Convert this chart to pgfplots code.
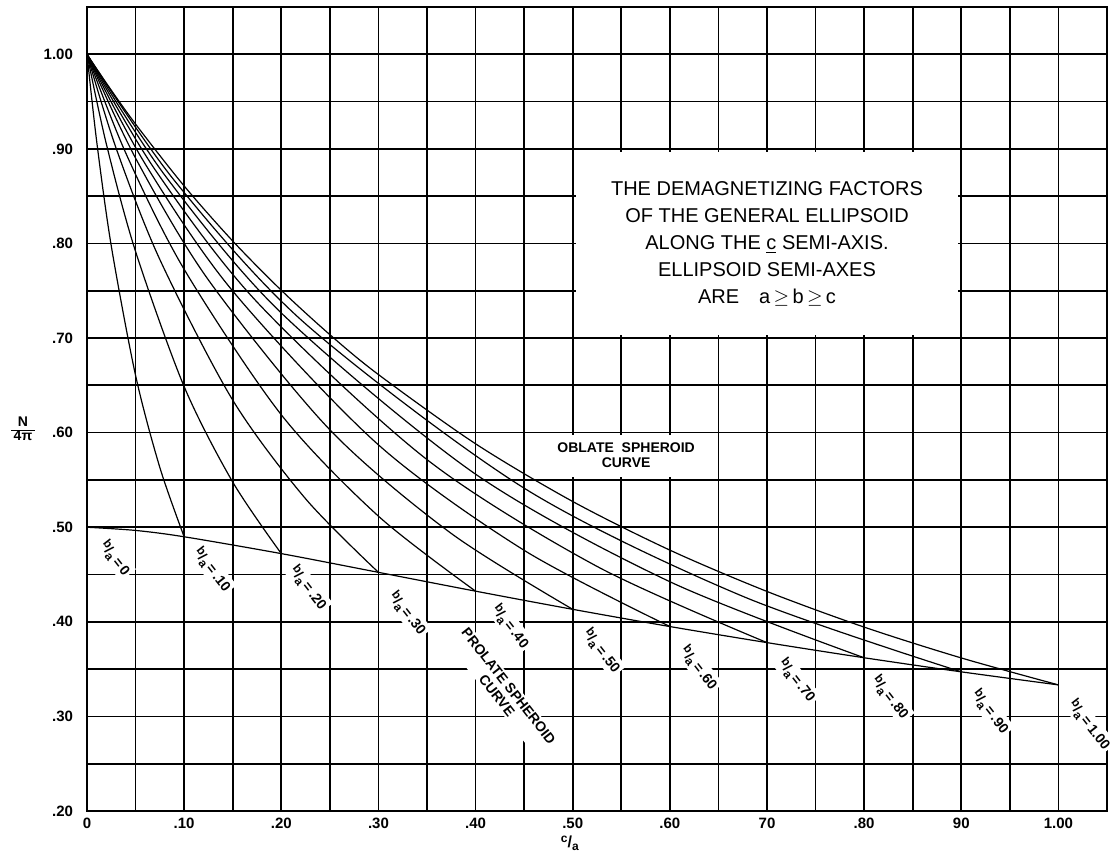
\documentclass[border=0pt]{standalone}
\usepackage{fontspec}
\setmainfont{Liberation Sans}
\usepackage{pgfplots}
\pgfplotsset{compat=1.18}

% small skewed fraction b/a used in the curve labels
\newcommand{\sfr}[2]{\raisebox{0.5ex}{\fontsize{6}{6}\selectfont #1}/\raisebox{-0.4ex}{\fontsize{6}{6}\selectfont #2}}
\newcommand{\ba}[1]{\sfr{b}{a}\,=\,#1}

\pgfplotsset{
  curve/.style={black, line width=0.6pt, smooth, mark=none},
}
\tikzset{
  lbl/.style={rotate=-52, font=\fontsize{7}{7.5}\selectfont\bfseries, fill=white, inner sep=1pt, align=center},
}

\begin{document}
\begin{tikzpicture}
\path[use as bounding box] (-43.5pt,-21.5pt) rectangle (511.5pt,405.5pt);
\begin{axis}[
  scale only axis, width=510pt, height=402pt,
  xmin=0, xmax=1.05, ymin=0.2, ymax=1.05,
  xtick={0,0.1,0.2,0.3,0.4,0.5,0.6,0.7,0.8,0.9,1.0},
  xticklabels={0,.10,.20,.30,.40,.50,.60,70,.80,90,1.00},
  ytick={0.2,0.3,0.4,0.5,0.6,0.7,0.8,0.9,1.0},
  yticklabels={.20,.30,.40,.50,.60,.70,.80,.90,1.00},
  minor tick num=1,
  grid=both,
  major grid style={black, line width=0.85pt},
  minor grid style={black, line width=0.85pt},
  major tick length=0pt, minor tick length=0pt,
  axis line style={black, line width=1pt},
  tick label style={font=\fontsize{7.5}{8}\selectfont\bfseries},
  yticklabel style={xshift=-3.5pt},
  clip=false,
]
% white panels over the grid
\fill[white] (axis cs:0.503,0.703) rectangle (axis cs:0.897,0.897);
\fill[white] (axis cs:0.452,0.553) rectangle (axis cs:0.648,0.597);

\node[align=center, font=\fontsize{10}{13.5}\selectfont] at (axis cs:0.70,0.80)
  {THE DEMAGNETIZING FACTORS\\OF THE GENERAL ELLIPSOID\\ALONG THE \underline{c} SEMI-AXIS.\\ELLIPSOID SEMI-AXES\\ARE\quad a$\,\geq\,$b$\,\geq\,$c};
\node[align=center, font=\fontsize{7}{7.5}\selectfont\bfseries] at (axis cs:0.555,0.576)
  {OBLATE\ \ SPHEROID\\CURVE};

% curve labels
\node[lbl] at (axis cs:0.029,0.467) {\ba{0}};
\node[lbl] at (axis cs:0.129,0.455) {\ba{.10}};
\node[lbl] at (axis cs:0.228,0.436) {\ba{.20}};
\node[lbl] at (axis cs:0.330,0.409) {\ba{.30}};
\node[lbl] at (axis cs:0.436,0.395) {\ba{.40}};
\node[lbl] at (axis cs:0.428,0.327) {PROLATE SPHEROID\\CURVE};
\node[lbl] at (axis cs:0.530,0.369) {\ba{.50}};
\node[lbl] at (axis cs:0.630,0.351) {\ba{.60}};
\node[lbl] at (axis cs:0.731,0.338) {\ba{.70}};
\node[lbl] at (axis cs:0.827,0.320) {\ba{.80}};
\node[lbl] at (axis cs:0.930,0.305) {\ba{.90}};
\node[lbl] at (axis cs:1.032,0.291) {\ba{1.00}};

% prolate spheroid curve (b = c)
\addplot[curve] coordinates {(0,0.5000) (0.05,0.4966) (0.1,0.4899) (0.2,0.4721) (0.3,0.4523) (0.4,0.4324) (0.5,0.4132) (0.6,0.3950) (0.7,0.3780) (0.8,0.3620) (0.9,0.3471) (1.0,0.3333)};
% oblate spheroid curve (b/a = 1.00)
\addplot[curve] coordinates {(0,1) (0.02,0.9694) (0.05,0.9262) (0.1,0.8608) (0.15,0.8026) (0.2,0.7505) (0.25,0.7036) (0.3,0.6614) (0.4,0.5882) (0.5,0.5272) (0.6,0.4758) (0.7,0.4321) (0.8,0.3944) (0.9,0.3618) (1.0,0.3333)};
% b/a = .90 ... .10
\addplot[curve] coordinates {(0,1) (0.09,0.8665) (0.225,0.7150) (0.45,0.5413) (0.675,0.4270) (0.9,0.3471)};
\addplot[curve] coordinates {(0,1) (0.08,0.8723) (0.2,0.7265) (0.4,0.5561) (0.6,0.4424) (0.8,0.3620)};
\addplot[curve] coordinates {(0,1) (0.07,0.8781) (0.175,0.7381) (0.35,0.5715) (0.525,0.4586) (0.7,0.3780)};
\addplot[curve] coordinates {(0,1) (0.06,0.8839) (0.15,0.7497) (0.3,0.5871) (0.45,0.4756) (0.6,0.3950)};
\addplot[curve] coordinates {(0,1) (0.05,0.8902) (0.125,0.7614) (0.25,0.6030) (0.375,0.4934) (0.5,0.4132)};
\addplot[curve] coordinates {(0,1) (0.04,0.8954) (0.1,0.7727) (0.2,0.6189) (0.3,0.5117) (0.4,0.4324)};
\addplot[curve] coordinates {(0,1) (0.03,0.9006) (0.075,0.7830) (0.15,0.6344) (0.225,0.5301) (0.3,0.4523)};
\addplot[curve] coordinates {(0,1) (0.02,0.9048) (0.05,0.7915) (0.1,0.6487) (0.15,0.5478) (0.2,0.4721)};
\addplot[curve] coordinates {(0,1) (0.01,0.9077) (0.025,0.7973) (0.05,0.6605) (0.075,0.5631) (0.1,0.4899)};

% axis descriptions
\node[font=\fontsize{7}{7}\selectfont\bfseries] at (axis cs:0,0.602) [xshift=-32pt]
  {\renewcommand{\arraystretch}{0.85}\begin{tabular}{@{\,}c@{\,}}N\\\hline 4π\end{tabular}};
\node[font=\fontsize{8}{8}\selectfont\bfseries] at (axis cs:0.497,0.2) [yshift=-16pt] {\sfr{c}{a}};
\end{axis}
\end{tikzpicture}
\end{document}
